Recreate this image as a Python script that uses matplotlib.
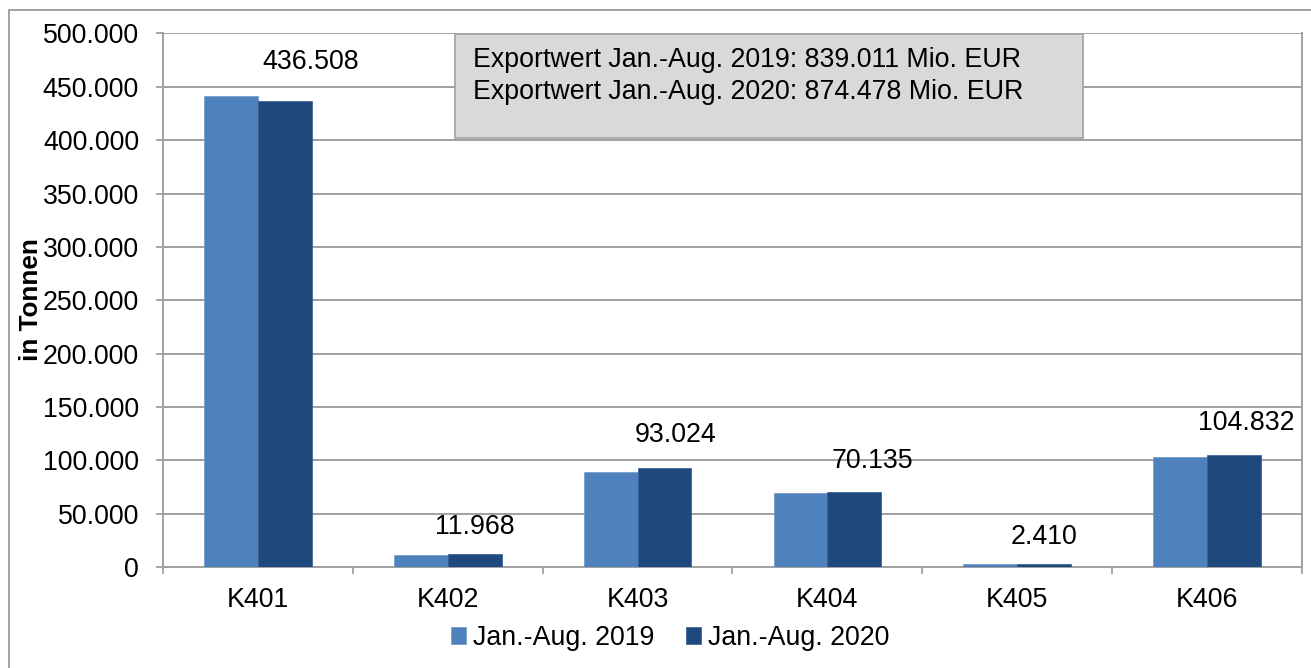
import matplotlib
matplotlib.use("Agg")
import matplotlib.pyplot as plt
import numpy as np
from matplotlib.patches import Rectangle

plt.rcParams['font.family'] = ['Liberation Sans', 'DejaVu Sans']

categories = ["K401", "K402", "K403", "K404", "K405", "K406"]
series_names = ["Jan.-Aug. 2019", "Jan.-Aug. 2020"]
values_2019 = [441200, 11000, 88800, 69200, 3000, 103000]
values_2020 = [436508, 11968, 93024, 70135, 2410, 104832]
yticks = [0, 50000, 100000, 150000, 200000, 250000, 300000, 350000, 400000, 450000, 500000]
box_lines = ["Exportwert Jan.-Aug. 2019: 839.011 Mio. EUR",
             "Exportwert Jan.-Aug. 2020: 874.478 Mio. EUR"]
ylabel = "in Tonnen"

# label offsets in pixels (dx, dy) relative to top-center of the 2020 bar
label_offsets = [(26, 39), (0, 27), (11, 33), (18, 31), (0, 27), (12, 32)]

c2019 = "#4F81BD"
c2020 = "#1F497D"
grid_c = "#A0A0A0"
FS = 19.3
PX = 0.72  # points per pixel at dpi 100

W, H = 1311, 668
fig = plt.figure(figsize=(W / 100, H / 100), dpi=100)
ax = fig.add_axes([163 / W, 1 - 567 / H, (1302 - 163) / W, (567 - 33.5) / H])

# outer frame
fig.patches.append(Rectangle((9 / W, -0.05), 1.2, (668 - 10) / H + 0.05, transform=fig.transFigure,
                             fill=False, edgecolor="#9A9A9A", linewidth=1.3, zorder=0))

x = np.arange(len(categories))
bw = 0.284
b1 = ax.bar(x - bw / 2, values_2019, bw, color=c2019, edgecolor="#6E98CB", linewidth=0.5,
            label=series_names[0], zorder=3)
b2 = ax.bar(x + bw / 2, values_2020, bw, color=c2020, edgecolor="#2F5A8E", linewidth=0.5,
            label=series_names[1], zorder=3)

ax.set_xlim(-0.5, len(categories) - 0.5)
ax.set_ylim(0, 500000)
ax.set_yticks(yticks)
ax.set_yticklabels([f"{v:,.0f}".replace(",", ".") for v in yticks], fontsize=FS)
ax.yaxis.grid(True, color=grid_c, linewidth=1.4, zorder=0)
ax.set_axisbelow(True)

ax.set_xticks(x)
ax.set_xticklabels(categories, fontsize=FS)
ax.set_xticks(np.arange(-0.5, len(categories) + 0.5, 1), minor=True)
ax.tick_params(axis='x', which='major', length=0, pad=20 * PX)
ax.tick_params(axis='x', which='minor', length=7 * PX, width=1.3, color=grid_c)
ax.tick_params(axis='y', length=7 * PX, width=1.3, color=grid_c, pad=17 * PX)

for s in ["left", "bottom", "right"]:
    ax.spines[s].set_color(grid_c)
    ax.spines[s].set_linewidth(1.4)
ax.spines["top"].set_visible(False)

for i, v in enumerate(values_2020):
    dx, dy = label_offsets[i]
    ax.annotate(f"{v:,.0f}".replace(",", "."), xy=(x[i] + bw / 2, v),
                xytext=(dx * PX, dy * PX), textcoords="offset points",
                ha="center", va="center", fontsize=FS, zorder=5)

fig.text(31 / W, 1 - 300 / H, ylabel, rotation=90, fontsize=FS - 0.5, fontweight="bold",
         ha="center", va="center")

# info box
fig.patches.append(Rectangle((455 / W, 1 - 138 / H), (1083 - 455) / W, (138 - 34) / H,
                             transform=fig.transFigure, facecolor="#D9D9D9",
                             edgecolor="#A6A6A6", linewidth=1.3, zorder=4))
fig.text(473 / W, 1 - 60 / H, box_lines[0], fontsize=FS, ha="left", va="center", zorder=5)
fig.text(473 / W, 1 - 92 / H, box_lines[1], fontsize=FS, ha="left", va="center", zorder=5)

leg = fig.legend(handles=[b1, b2], labels=series_names, loc="center",
                 bbox_to_anchor=(670 / W, 1 - 638 / H), ncol=2, frameon=False, fontsize=FS,
                 handlelength=0.55, handleheight=0.55, handletextpad=0.25, columnspacing=1.2)

fig.savefig("out.png", dpi=100)
